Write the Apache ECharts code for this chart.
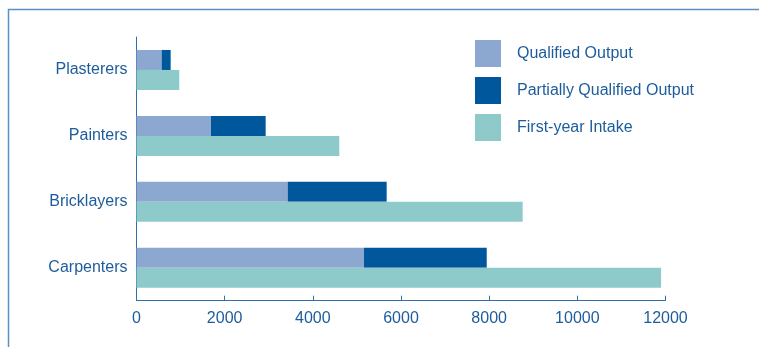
<!DOCTYPE html>
<html>
<head>
<meta charset="utf-8">
<script src="https://cdn.jsdelivr.net/npm/echarts@6/dist/echarts.min.js"></script>
<style>
  html, body { margin: 0; padding: 0; background: #ffffff; }
  #chart { width: 759px; height: 347px; }
</style>
</head>
<body>
<div id="chart"></div>
<script>
// Trades, listed top to bottom
const trades = ['Plasterers', 'Painters', 'Bricklayers', 'Carpenters'];
const qualifiedOutput = [570, 1690, 3430, 5160];
const partiallyQualifiedOutput = [205, 1240, 2245, 2785];
const firstYearIntake = [970, 4600, 8760, 11900];
const xTicks = [0, 2000, 4000, 6000, 8000, 10000, 12000];

const textColor = '#1d5c9c';
const axisColor = '#2f6fac';
const frameColor = '#5b8fc4';
const font = '"Liberation Sans", Arial, sans-serif';

const chart = echarts.init(document.getElementById('chart'));
chart.setOption({
  animation: false,
  textStyle: { fontFamily: font },
  grid: { left: 136.5, right: 93.5, top: 37, bottom: 46.3 },
  legend: {
    orient: 'vertical',
    left: 470,
    top: 35,
    itemWidth: 26,
    itemHeight: 27,
    itemGap: 10,
    icon: 'rect',
    data: ['Qualified Output', 'Partially Qualified Output', 'First-year Intake'],
    textStyle: { color: textColor, fontSize: 16, fontFamily: font, padding: [0, 0, 0, 11] }
  },
  xAxis: {
    type: 'value',
    min: xTicks[0],
    max: xTicks[xTicks.length - 1],
    interval: xTicks[1] - xTicks[0],
    splitLine: { show: false },
    axisLine: { show: true, lineStyle: { color: axisColor, width: 1 } },
    axisTick: { show: true, inside: true, length: 5, lineStyle: { color: axisColor } },
    axisLabel: {
      color: textColor, fontSize: 16, fontFamily: font, margin: 10,
      formatter: (v) => String(v)
    }
  },
  yAxis: {
    type: 'category',
    data: trades,
    inverse: true,
    axisLine: { show: true, lineStyle: { color: axisColor, width: 1 } },
    axisTick: { show: false },
    axisLabel: { color: textColor, fontSize: 16, fontFamily: font, margin: 9, padding: [0, 0, 4, 0] }
  },
  series: [
    {
      name: 'Qualified Output',
      type: 'bar',
      stack: 'output',
      barWidth: 20,
      barGap: '0%',
      data: qualifiedOutput,
      itemStyle: { color: '#8da8d0' }
    },
    {
      name: 'Partially Qualified Output',
      type: 'bar',
      stack: 'output',
      barWidth: 20,
      barGap: '0%',
      data: partiallyQualifiedOutput,
      itemStyle: { color: '#01579c' }
    },
    {
      name: 'First-year Intake',
      type: 'bar',
      barWidth: 20,
      barGap: '0%',
      data: firstYearIntake,
      itemStyle: { color: '#8ecac9' }
    }
  ],
  graphic: [
    {
      type: 'polyline',
      silent: true,
      shape: { points: [[8.5, 347], [8.5, 9.5], [759, 9.5]] },
      style: { stroke: frameColor, lineWidth: 1.5, fill: null }
    }
  ]
});
</script>
</body>
</html>
